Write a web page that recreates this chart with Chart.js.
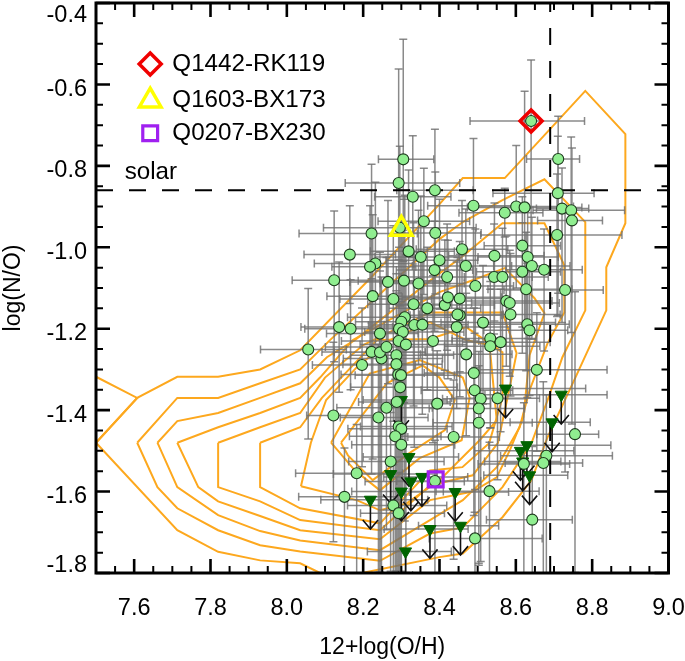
<!DOCTYPE html>
<html>
<head>
<meta charset="utf-8">
<title>log(N/O) vs 12+log(O/H)</title>
<script src="https://cdn.jsdelivr.net/npm/chart.js@4/dist/chart.umd.min.js"></script>
<style>
  html, body { margin: 0; padding: 0; background: #fff; }
  #wrap { width: 685px; height: 661px; }
</style>
</head>
<body>
<div id="wrap"><canvas id="myChart" width="685" height="661"></canvas></div>
<script>
// galaxies with a N/O measurement
const circleX = [
  8.305, 8.293, 8.33, 8.388, 8.359, 8.222, 8.296, 8.389,
  8.165, 8.232, 8.218, 8.319, 8.351, 8.387, 8.40, 8.124,
  8.265, 8.307, 8.345, 8.225, 8.279, 8.332, 8.368, 8.137,
  8.167, 8.244, 8.309, 8.30, 8.294, 8.304, 8.334, 8.355,
  8.383, 8.293, 8.312, 8.056, 8.222, 8.248, 8.244, 8.261,
  8.197, 8.287, 8.287, 8.292, 8.299, 8.297, 8.288, 8.261,
  8.24, 8.122, 8.293, 8.30, 8.284, 8.30, 8.272, 8.183,
  8.394, 8.388, 8.151, 8.279, 8.293, 8.414, 8.453, 8.447,
  8.514, 8.586, 8.575, 8.584, 8.63, 8.636, 8.445, 8.533,
  8.533, 8.56, 8.47, 8.49, 8.492, 8.508, 8.552, 8.503,
  8.503, 8.437, 8.655, 8.755, 8.68, 8.672, 8.621, 8.531,
  8.643, 8.493, 8.64, 8.711, 8.71, 8.721, 8.745, 8.747,
  8.708, 8.489, 8.571, 8.601, 8.623, 8.617, 8.631, 8.642,
  8.674, 8.617, 8.459, 8.544, 8.469, 8.42, 8.543, 8.565,
  8.494, 8.627, 8.729, 8.422, 8.453
];
const circleY = [
  -0.784, -0.842, -0.876, -0.86, -0.936, -0.966, -0.952, -0.965,
  -1.018, -1.04, -1.048, -1.01, -1.024, -1.056, -1.032, -1.081,
  -1.085, -1.082, -1.089, -1.12, -1.127, -1.14, -1.15, -1.196,
  -1.20, -1.212, -1.172, -1.183, -1.20, -1.208, -1.191, -1.19,
  -1.23, -1.23, -1.239, -1.251, -1.257, -1.273, -1.258, -1.245,
  -1.289, -1.265, -1.287, -1.3125, -1.314, -1.344, -1.38, -1.394,
  -1.418, -1.413, -1.44, -1.446, -1.464, -1.485, -1.526, -1.555,
  -1.384, -1.574, -1.613, -1.634, -1.653, -1.142, -1.167, -1.165,
  -1.185, -1.165, -1.132, -1.137, -1.189, -1.204, -1.196, -1.224,
  -1.243, -1.233, -1.263, -1.309, -1.351, -1.372, -1.371, -1.396,
  -1.431, -1.466, -1.301, -1.459, -1.512, -1.53, -1.532, -1.599,
  -1.669, -1.715, -0.69, -0.783, -0.867, -0.905, -0.909, -0.934,
  -0.97, -0.898, -0.915, -0.90, -0.902, -0.996, -1.024, -1.046,
  -1.055, -1.06, -1.005, -1.021, -1.046, -1.073, -1.073, -1.073,
  -1.095, -1.103, -1.105, -1.123, -1.126
];
const circleXMinus = [
  .065, .14, .10, .10, .12, .19, .20, .10,
  .12, .16, .10, .10, .12, .10, .14, .11,
  .10, .12, .10, .12, .14, .12, .10, .10,
  .12, .14, .15, .12, .16, .10, .12, .10,
  .14, .15, .12, .125, .13, .10, .12, .16,
  .13, .12, .14, .15, .12, .13, .10, .13,
  .10, .07, .10, .14, .12, .13, .11, .16,
  .12, .10, .12, .12, .10, .12, .13, .10,
  .11, .12, .12, .10, .12, .12, .12, .10,
  .12, .10, .12, .13, .14, .10, .12, .13,
  .12, .12, .15, .10, .12, .10, .12, .14,
  .12, .12, .16, .083, .17, .067, .10, .09,
  .20, .12, .12, .12, .15, .10, .13, .10,
  .10, .12, .12, .12, .14, .12, .12, .10,
  .14, .10, .16, .12, .10
];
const circleXPlus = [
  .08, .16, .10, .10, .12, .12, .20, .12,
  .12, .10, .12, .12, .10, .10, .10, .12,
  .15, .12, .12, .12, .10, .10, .14, .14,
  .15, .10, .12, .15, .12, .16, .10, .12,
  .12, .14, .16, .10, .14, .16, .12, .12,
  .14, .15, .12, .12, .14, .15, .14, .12,
  .13, .12, .14, .12, .12, .14, .14, .12,
  .14, .12, .14, .14, .12, .13, .11, .12,
  .19, .13, .12, .13, .11, .10, .14, .12,
  .13, .13, .12, .10, .10, .12, .11, .12,
  .14, .12, .184, .062, .173, .103, .12, .13,
  .105, .176, .14, .056, .095, .07, .14, .08,
  .17, .14, .10, .15, .15, .10, .08, .10,
  .10, .10, .12, .13, .12, .14, .10, .12,
  .10, .12, .10, .14, .12
];
const circleYMinus = [
  .25, .30, .15, .20, .18, .22, .25, .15,
  .12, .20, .20, .18, .15, .15, .12, .20,
  .25, .30, .20, .40, .30, .25, .20, .16,
  .15, .59, .50, .62, .60, .40, .30, .22,
  .25, .57, .56, .22, .30, .53, .54, .40,
  .25, .53, .51, .49, .49, .46, .42, .30,
  .38, .31, .36, .35, .34, .32, .27, .25,
  .20, .23, .19, .17, .15, .16, .20, .15,
  .20, .20, .16, .18, .18, .16, .20, .22,
  .20, .22, .20, .35, .30, .40, .20, .38,
  .35, .30, .20, .34, .30, .28, .27, .20,
  .14, .09, .35, .33, .30, .28, .30, .50,
  .20, .20, .06, .20, .30, .20, .20, .18,
  .20, .20, .18, .16, .18, .18, .14, .16,
  .20, .20, .447, .20, .18
];
const circleYPlus = [
  .295, .28, .15, .15, .13, .17, .20, .15,
  .12, .20, .15, .20, .15, .12, .15, .17,
  .20, .20, .18, .20, .18, .20, .15, .16,
  .12, .20, .30, .25, .20, .25, .18, .18,
  .16, .20, .22, .15, .18, .20, .20, .22,
  .14, .20, .18, .20, .18, .20, .15, .14,
  .18, .18, .16, .16, .14, .14, .12, .12,
  .13, .10, .12, .10, .10, .16, .15, .14,
  .14, .15, .16, .13, .15, .15, .16, .14,
  .14, .13, .15, .16, .14, .14, .12, .14,
  .14, .14, .14, .35, .15, .20, .15, .12,
  .18, .12, .15, .105, .14, .10, .18, .178,
  .15, .165, .06, .15, .285, .12, .12, .12,
  .10, .12, .12, .13, .14, .13, .13, .12,
  .14, .14, .20, .14, .14
];

// upper limits on N/O
const limitX = [8.32, 8.272, 8.325, 8.354, 8.219, 8.375, 8.311, 8.30, 8.30, 8.573, 8.719, 8.695, 8.629, 8.612, 8.618, 8.636, 8.441, 8.455];
const limitY = [-1.515, -1.557, -1.575, -1.564, -1.62, -1.692, -1.747, -1.60, -1.375, -1.347, -1.362, -1.43, -1.486, -1.50, -1.526, -1.56, -1.601, -1.684];
const limitXMinus = [.12, .15, .12, .10, .13, .12, .10, .13, .10, .08, .20, .11, .10, .12, .10, .12, .12, .11];
const limitXPlus = [.13, .12, .14, .12, .15, .10, .12, .11, .12, .21, .12, .10, .22, .14, .10, .10, .14, .10];

// SDSS density contours, outer to inner
const contourA = [[7.50,-1.48],[7.608,-1.37],[7.713,-1.318],[7.82,-1.318],[7.93,-1.30],[8.035,-1.253],[8.225,-1.07],[8.40,-0.894],[8.461,-0.83],[8.571,-0.83],[8.709,-0.69],[8.782,-0.616],[8.887,-0.722],[8.887,-0.941],[8.837,-1.049],[8.837,-1.155],[8.756,-1.32],[8.683,-1.467],[8.641,-1.572],[8.565,-1.663],[8.461,-1.752],[8.40,-1.761],[8.197,-1.80],[8.087,-1.80],[8.035,-1.776],[7.93,-1.769],[7.82,-1.748],[7.713,-1.695],[7.50,-1.48]];
const contourIsland = [[7.50,-1.318],[7.608,-1.37],[7.50,-1.48],[7.50,-1.318]];
const contourB = [[7.608,-1.48],[7.713,-1.37],[7.82,-1.37],[7.93,-1.334],[8.035,-1.30],[8.113,-1.228],[8.40,-0.98],[8.461,-0.938],[8.565,-0.884],[8.675,-0.833],[8.782,-0.938],[8.782,-1.155],[8.722,-1.27],[8.683,-1.376],[8.641,-1.481],[8.565,-1.589],[8.461,-1.688],[8.375,-1.703],[8.244,-1.77],[8.035,-1.747],[7.93,-1.732],[7.82,-1.695],[7.713,-1.641],[7.661,-1.589],[7.608,-1.48]];
const contourC = [[7.661,-1.48],[7.713,-1.427],[7.82,-1.407],[7.93,-1.37],[8.035,-1.334],[8.105,-1.27],[8.178,-1.228],[8.40,-1.064],[8.458,-1.024],[8.565,-0.941],[8.675,-0.941],[8.727,-1.044],[8.727,-1.16],[8.683,-1.236],[8.636,-1.351],[8.61,-1.442],[8.55,-1.54],[8.461,-1.621],[8.375,-1.67],[8.244,-1.744],[8.035,-1.72],[7.93,-1.697],[7.82,-1.658],[7.713,-1.589],[7.661,-1.48]];
const contourD = [[7.713,-1.48],[7.82,-1.442],[7.93,-1.407],[8.035,-1.37],[8.087,-1.32],[8.173,-1.228],[8.40,-1.11],[8.487,-1.081],[8.571,-1.051],[8.649,-1.125],[8.675,-1.162],[8.636,-1.265],[8.62,-1.417],[8.585,-1.497],[8.55,-1.565],[8.487,-1.60],[8.375,-1.621],[8.244,-1.717],[8.035,-1.695],[7.93,-1.66],[7.82,-1.624],[7.768,-1.589],[7.713,-1.48]];
const contourE = [[7.82,-1.48],[7.93,-1.442],[8.035,-1.407],[8.10,-1.32],[8.20,-1.24],[8.375,-1.16],[8.565,-1.16],[8.602,-1.26],[8.584,-1.344],[8.553,-1.481],[8.487,-1.56],[8.375,-1.585],[8.244,-1.695],[8.035,-1.67],[7.93,-1.624],[7.82,-1.589],[7.82,-1.48]];
const contourF = [[7.93,-1.48],[8.035,-1.442],[8.092,-1.37],[8.178,-1.285],[8.236,-1.228],[8.375,-1.225],[8.47,-1.196],[8.565,-1.258],[8.565,-1.37],[8.53,-1.481],[8.46,-1.54],[8.375,-1.548],[8.244,-1.678],[8.035,-1.641],[7.93,-1.589],[7.93,-1.48]];
const contourG = [[8.037,-1.587],[8.063,-1.48],[8.103,-1.375],[8.186,-1.292],[8.27,-1.228],[8.375,-1.184],[8.47,-1.228],[8.531,-1.24],[8.55,-1.425],[8.505,-1.474],[8.40,-1.572],[8.314,-1.629],[8.244,-1.646],[8.183,-1.621],[8.037,-1.587]];
const contourH = [[8.116,-1.48],[8.217,-1.31],[8.348,-1.277],[8.461,-1.32],[8.479,-1.369],[8.458,-1.474],[8.348,-1.518],[8.244,-1.597],[8.178,-1.548],[8.116,-1.48]];
const contourI = [[8.142,-1.48],[8.262,-1.334],[8.356,-1.29],[8.40,-1.32],[8.44,-1.375],[8.414,-1.449],[8.322,-1.505],[8.225,-1.572],[8.16,-1.511],[8.142,-1.48]];
const contours = [contourIsland, contourA, contourB, contourC, contourD, contourE, contourF, contourG, contourH, contourI];

// highlighted objects and their legend keys
const labelNames = ['Q1442-RK119', 'Q1603-BX173', 'Q0207-BX230'];
const labelY = [-0.55, -0.64, -0.72];
const highlightX = [8.64, 8.30, 8.39];
const highlightY = [-0.69, -0.955, -1.57];
const solarNO = -0.86;
const solarOH = 8.69;
const xMajor = ['7.6', '7.8', '8.0', '8.2', '8.4', '8.6', '8.8', '9.0'];
const yMajor = ['-0.4', '-0.6', '-0.8', '-1.0', '-1.2', '-1.4', '-1.6', '-1.8'];

const GAP = {x: NaN, y: NaN};
const FONT = '"Liberation Sans", Helvetica, Arial, sans-serif';
const GRAY = 'rgba(112,112,112,0.82)';
const ORANGE = '#fda81e';

// one segment per error bar, split with NaN gaps
const xBars = [], yBars = [];
circleX.forEach((x, i) => {
    const y = circleY[i];
    xBars.push({x: x - circleXMinus[i], y}, {x: x + circleXPlus[i], y}, GAP);
    yBars.push({x, y: y - circleYMinus[i]}, {x, y: y + circleYPlus[i]}, GAP);
});
limitX.forEach((x, i) => {
    xBars.push({x: x - limitXMinus[i], y: limitY[i]}, {x: x + limitXPlus[i], y: limitY[i]}, GAP);
});

// arrows below the upper limits
const arrows = [];
limitX.forEach((x, i) => {
    const tip = limitY[i] - 0.072;
    arrows.push({x, y: limitY[i]}, {x, y: tip}, GAP);
    arrows.push({x: x - 0.02, y: tip + 0.022}, {x, y: tip}, {x: x + 0.02, y: tip + 0.022}, GAP);
});

const datasets = [];
contours.forEach(c => {
    datasets.push({
        data: c.map(p => ({x: p[0], y: p[1]})),
        showLine: true, borderColor: ORANGE, borderWidth: 2, pointRadius: 0, tension: 0
    });
});
datasets.push({
    data: xBars, showLine: true, borderColor: GRAY, borderWidth: 1.5,
    pointStyle: 'line', pointRadius: 4, pointRotation: 90, pointBorderColor: GRAY, pointBorderWidth: 1.5
});
datasets.push({
    data: yBars, showLine: true, borderColor: GRAY, borderWidth: 1.5,
    pointStyle: 'line', pointRadius: 4, pointRotation: 0, pointBorderColor: GRAY, pointBorderWidth: 1.5
});
datasets.push({
    data: [{x: 7.5, y: solarNO}, {x: 9.0, y: solarNO}],
    showLine: true, borderColor: '#000', borderWidth: 2, borderDash: [17, 16], pointRadius: 0
});
datasets.push({
    data: [{x: solarOH, y: -1.8}, {x: solarOH, y: -0.4}],
    showLine: true, borderColor: '#000', borderWidth: 2, borderDash: [17, 16], pointRadius: 0
});
datasets.push({
    data: arrows, showLine: true, borderColor: '#111', borderWidth: 1.6, pointRadius: 0
});
datasets.push({
    data: limitX.map((x, i) => ({x, y: limitY[i]})),
    pointStyle: 'triangle', pointRotation: 180, pointRadius: 7,
    pointBackgroundColor: '#006400', pointBorderColor: '#006400', pointBorderWidth: 1
});
datasets.push({
    data: circleX.map((x, i) => ({x, y: circleY[i]})),
    pointStyle: 'circle', pointRadius: 5.5,
    pointBackgroundColor: '#90ee90', pointBorderColor: '#1e3a1e', pointBorderWidth: 1.1
});
// red, yellow, purple: in the plot and again as legend keys
const highlightStyle = [
    {pointStyle: 'rectRot', radius: 11, color: '#f00000', width: 3.5},
    {pointStyle: 'triangle', radius: 12.5, color: '#ffff00', width: 3.5},
    {pointStyle: 'rect', radius: 10.5, color: '#a020f0', width: 3.2}
];
highlightStyle.forEach((s, i) => {
    datasets.push({
        data: [{x: highlightX[i], y: highlightY[i]}, {x: 7.642, y: labelY[i]}],
        pointStyle: s.pointStyle, pointRadius: s.radius, pointBorderColor: s.color,
        pointBorderWidth: s.width, pointBackgroundColor: 'rgba(0,0,0,0)'
    });
});

// inward ticks on all four sides, thicker every 0.2, then the box
const frameTicks = {
    id: 'frameTicks',
    afterDatasetsDraw(chart) {
        const {ctx, chartArea: a, scales} = chart;
        ctx.save();
        ctx.strokeStyle = '#000';
        scales.x.ticks.forEach(t => {
            const major = Math.round(t.value * 20) % 4 === 0;
            const len = major ? 14 : 7;
            const px = scales.x.getPixelForValue(t.value);
            ctx.lineWidth = major ? 2.6 : 2;
            ctx.beginPath();
            ctx.moveTo(px, a.bottom); ctx.lineTo(px, a.bottom - len);
            ctx.moveTo(px, a.top); ctx.lineTo(px, a.top + len);
            ctx.stroke();
        });
        scales.y.ticks.forEach(t => {
            const major = Math.round(Math.abs(t.value) * 20) % 4 === 0;
            const len = major ? 14 : 7;
            const py = scales.y.getPixelForValue(t.value);
            ctx.lineWidth = major ? 2.6 : 2;
            ctx.beginPath();
            ctx.moveTo(a.left, py); ctx.lineTo(a.left + len, py);
            ctx.moveTo(a.right, py); ctx.lineTo(a.right - len, py);
            ctx.stroke();
        });
        ctx.lineWidth = 3;
        ctx.strokeRect(a.left, a.top, a.right - a.left, a.bottom - a.top);
        ctx.restore();
    }
};

// legend names, the "solar" note and the y tick labels, which sit a little
// below their ticks in the original and are pulled inside at both ends
const plotNotes = {
    id: 'plotNotes',
    afterDatasetsDraw(chart) {
        const {ctx, chartArea: a, scales} = chart;
        ctx.save();
        ctx.fillStyle = '#000';
        ctx.font = '24.2px ' + FONT;
        ctx.textAlign = 'left';
        ctx.textBaseline = 'middle';
        labelNames.forEach((name, i) => {
            ctx.fillText(name, scales.x.getPixelForValue(7.70), scales.y.getPixelForValue(labelY[i]));
        });
        ctx.fillText('solar', scales.x.getPixelForValue(7.575), scales.y.getPixelForValue(-0.815));
        ctx.font = '23.5px ' + FONT;
        ctx.textAlign = 'right';
        yMajor.forEach(label => {
            const v = parseFloat(label);
            let py = scales.y.getPixelForValue(v) + 5;
            py = Math.max(py, a.top + 13);
            py = Math.min(py, a.bottom - 7);
            ctx.fillText(label, a.left - 9, py);
        });
        ctx.restore();
    }
};

new Chart(document.getElementById('myChart').getContext('2d'), {
    type: 'scatter',
    data: {datasets: datasets.reverse()},
    plugins: [frameTicks, plotNotes],
    options: {
        responsive: false,
        animation: false,
        layout: {autoPadding: false, padding: {top: 3, right: 16.5}},
        plugins: {legend: {display: false}, tooltip: {enabled: false}},
        scales: {
            x: {
                type: 'linear', min: 7.5, max: 9.0,
                afterFit(scale) { scale.height = 88; scale.paddingLeft = 0; scale.paddingRight = 0; },
                grid: {display: false},
                border: {display: false},
                ticks: {
                    stepSize: 0.05, autoSkip: false, maxRotation: 0, padding: 13,
                    color: '#000', font: {family: FONT, size: 23.5},
                    callback: v => xMajor.includes(v.toFixed(1)) && Math.abs(v * 5 - Math.round(v * 5)) < 1e-6 ? v.toFixed(1) : ''
                },
                title: {display: true, text: '12+log(O/H)', color: '#000', font: {family: FONT, size: 23}, padding: {top: 0, bottom: 0}}
            },
            y: {
                type: 'linear', min: -1.8, max: -0.4,
                afterFit(scale) { scale.width = 96; scale.paddingTop = 0; scale.paddingBottom = 0; },
                grid: {display: false},
                border: {display: false},
                ticks: {display: false, stepSize: 0.05},
                title: {display: true, text: 'log(N/O)', color: '#000', font: {family: FONT, size: 23}, padding: {top: 0, bottom: 0}}
            }
        }
    }
});
</script>
</body>
</html>
